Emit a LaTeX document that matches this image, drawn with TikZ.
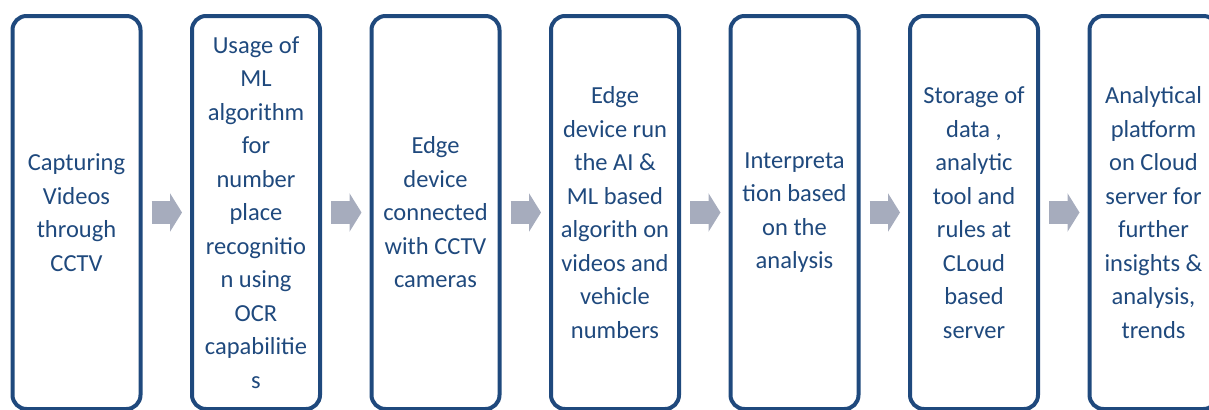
\documentclass[tikz,border=0pt]{standalone}
\usepackage{fontspec}
\setmainfont{Carlito}
\usetikzlibrary{chains,positioning,arrows.meta}
\definecolor{boxblue}{RGB}{31,73,125}
\definecolor{arrgray}{RGB}{166,172,189}

\begin{document}
\begin{tikzpicture}[
box/.style={draw=boxblue, line width=4bp, rounded corners=14bp, outer sep=0pt,
  minimum width=128bp, minimum height=393bp, inner sep=0pt, align=center,
  text=boxblue, font=\fontsize{24.5bp}{33.5bp}\selectfont, join=by flow},
flow/.style={draw=arrgray, line width=23bp, shorten <=11bp, shorten >=10bp,
  -{Triangle[width=38bp, length=12bp]}},
start chain=going right,node distance=51.5bp
]
\useasboundingbox (0,0) rectangle (1209bp,-410bp);
\node[on chain, box] (capture) at (76.5bp,-212.5bp) {Capturing\\Videos\\through\\CCTV};
\node[on chain, box] (ocr) {Usage of\\ML\\algorithm\\for\\number\\place\\recognitio\\n using\\OCR\\capabilitie\\s};
\node[on chain, box] (edge) {Edge\\device\\connected\\with CCTV\\cameras};
\node[on chain, box] (run) {Edge\\device run\\the AI \&\\ML based\\algorith on\\videos and\\vehicle\\numbers};
\node[on chain, box] (interp) {Interpreta\\tion based\\on the\\analysis};
\node[on chain, box] (store) {Storage of\\data ,\\analytic\\tool and\\rules at\\CLoud\\based\\server};
\node[on chain, box] (cloud) {Analytical\\platform\\on Cloud\\server for\\further\\insights \&\\analysis,\\trends};
\end{tikzpicture}
\end{document}
